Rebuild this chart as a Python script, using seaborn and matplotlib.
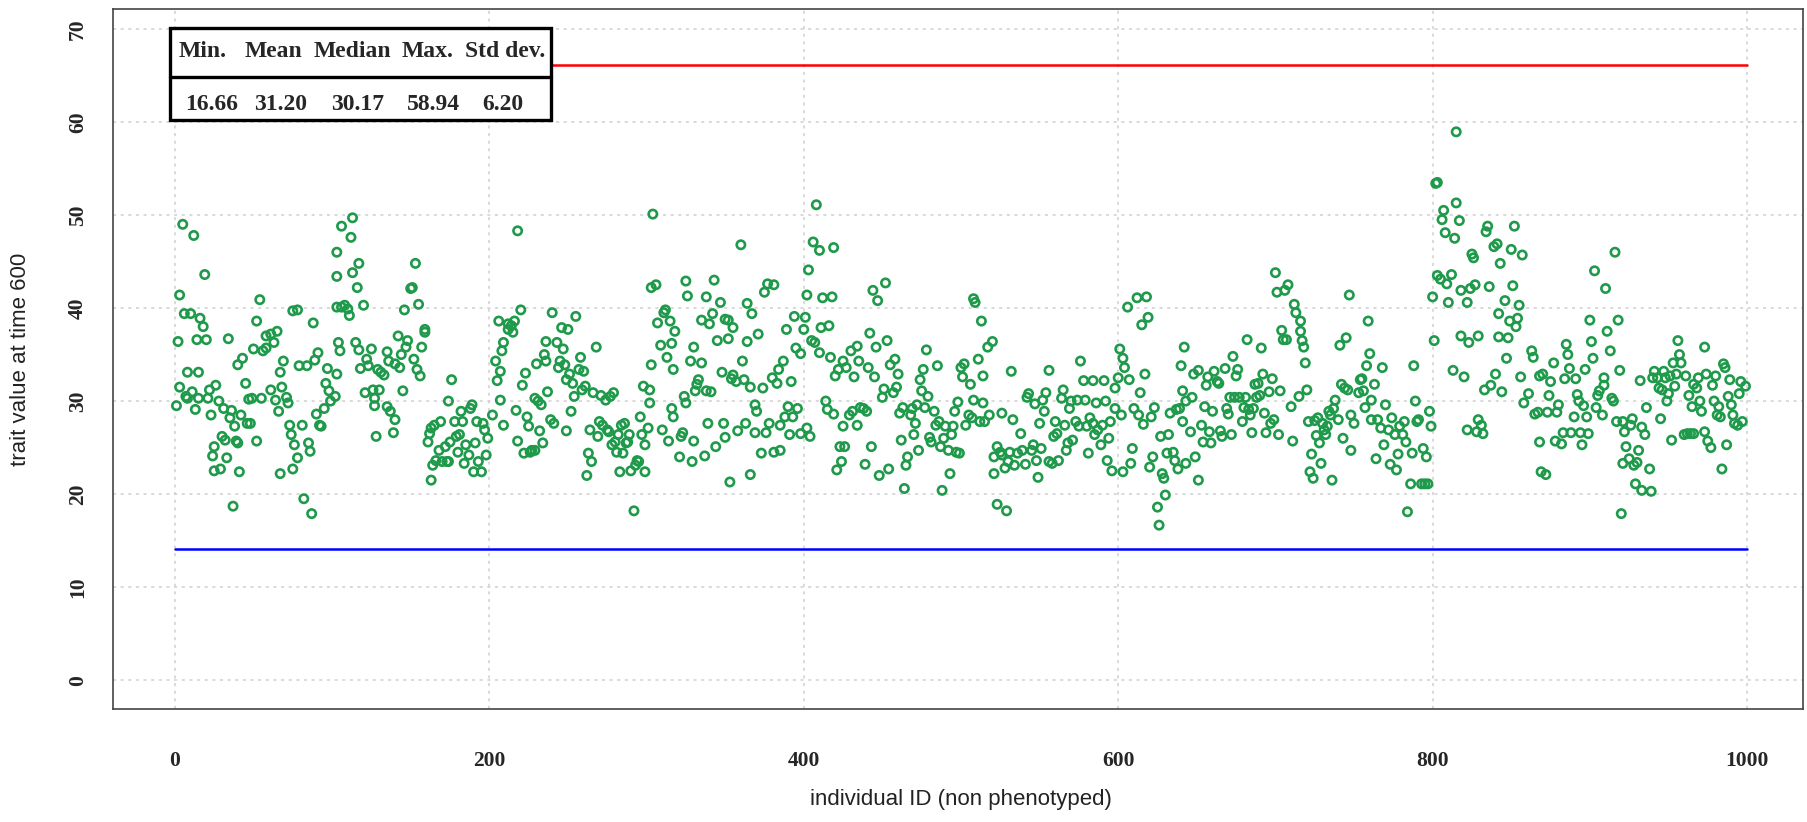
import matplotlib
matplotlib.use('Agg')
import pandas as pd
import numpy as np
import seaborn as sns
import matplotlib.pyplot as plt
from matplotlib.patches import Rectangle

# individual IDs and trait values, block by block
ind_id = [
    1, 2, 3, 3, 5, 6, 7, 8, 8, 10, 11, 12, 13, 14, 15, 15, 16, 18, 19, 20,
    21, 22, 23, 24, 25, 25, 26, 28, 29, 30, 31, 32, 33, 34, 35, 36, 37, 38, 39, 40,
    40, 41, 42, 43, 45, 46, 47, 48, 49, 50, 52, 52, 54, 55, 56, 58, 58, 61, 61, 63,
    64, 65, 66, 67, 67, 68, 69, 71, 72, 73, 74, 75, 75, 76, 78, 78, 79, 81, 82, 84,
    85, 86, 87, 88, 89, 90, 91, 92, 93, 95, 96, 97, 98, 99,
    # 100 - 209
    103, 103, 103, 104, 105, 103, 102, 106, 106, 108, 110, 111, 112, 113, 113, 116, 117, 115, 117, 118,
    120, 121, 122, 123, 125, 126, 127, 127, 128, 129, 130, 131, 133, 135, 135, 136, 137, 139, 140, 140,
    142, 143, 144, 145, 146, 147, 148, 150, 151, 152, 153, 154, 155, 156, 157, 159, 159, 163, 161, 162,
    163, 164, 165, 166, 168, 169, 170, 172, 173, 174, 174, 175, 176, 178, 179, 180, 181, 182, 183, 184,
    185, 187, 188, 189, 190, 191, 192, 193, 195, 196, 197, 198, 199, 202, 204, 205, 206, 207, 207, 208,
    209, 209,
    # 210 - 317
    212, 212, 214, 215, 216, 218, 217, 218, 220, 221, 222, 223, 224, 225, 226, 227, 229, 229, 230, 231,
    232, 233, 234, 235, 236, 236, 237, 239, 240, 241, 243, 244, 245, 246, 247, 248, 249, 249, 250, 251,
    252, 253, 254, 255, 257, 258, 259, 260, 261, 262, 263, 264, 265, 266, 268, 269, 270, 271, 272, 274,
    275, 276, 277, 278, 279, 280, 281, 282, 283, 284, 285, 286, 287, 288, 289, 290, 292, 293, 294, 295,
    296, 297, 298, 299, 299, 301, 302, 302, 303, 304, 303, 306, 307, 309, 310, 311, 312, 313, 314, 315,
    316, 316, 317, 317,
    # 318 - 425
    318, 321, 322, 323, 324, 325, 325, 326, 328, 329, 330, 330, 331, 332, 333, 335, 335, 337, 338, 338,
    339, 340, 341, 342, 343, 344, 345, 347, 348, 349, 350, 350, 352, 352, 353, 354, 355, 355, 357, 358,
    360, 361, 362, 363, 364, 364, 366, 366, 367, 369, 369, 370, 371, 373, 374, 375, 376, 377, 378, 380,
    381, 381, 383, 384, 385, 385, 387, 388, 389, 390, 391, 392, 393, 394, 395, 396, 398, 398, 400, 401,
    402, 402, 403, 404, 405, 406, 407, 408, 410, 410, 411, 412, 414, 415, 416, 417, 418, 419, 419, 420,
    421, 422, 423, 424, 425, 425,
    # 426 - 533
    426, 427, 429, 430, 431, 432, 434, 434, 435, 436, 438, 439, 440, 441, 442, 443, 444, 445, 446, 447,
    448, 450, 451, 452, 453, 454, 455, 457, 458, 459, 460, 461, 462, 463, 464, 465, 466, 468, 469, 470,
    471, 472, 473, 474, 475, 476, 477, 478, 479, 480, 481, 483, 484, 485, 486, 487, 488, 489, 490, 492,
    493, 494, 495, 496, 497, 498, 499, 500, 501, 502, 503, 505, 506, 507, 508, 508, 509, 511, 512, 513,
    514, 514, 515, 517, 518, 520, 521, 521, 523, 523, 525, 526, 526, 528, 529, 530, 531, 532, 533,
    # 534 - 642
    534, 536, 538, 539, 541, 542, 543, 545, 546, 547, 548, 549, 550, 551, 552, 553, 554, 556, 556, 558,
    559, 560, 561, 562, 564, 565, 566, 567, 568, 569, 570, 571, 573, 574, 575, 576, 578, 579, 580, 581,
    582, 584, 584, 585, 586, 587, 589, 590, 591, 592, 593, 594, 595, 596, 598, 598, 600, 601, 602, 603,
    603, 604, 606, 607, 608, 609, 610, 612, 613, 614, 615, 616, 617, 618, 619, 620, 621, 622, 623, 625,
    626, 627, 628, 629, 630, 631, 632, 633, 635, 636, 637, 638, 639, 640, 641, 641, 642,
    # 643 - 750
    643, 643, 646, 647, 648, 649, 651, 651, 653, 654, 655, 656, 657, 658, 659, 660, 661, 663, 664, 665,
    666, 668, 669, 670, 671, 672, 673, 674, 675, 676, 677, 679, 680, 681, 682, 683, 684, 685, 686, 687,
    688, 689, 690, 691, 692, 693, 694, 696, 697, 698, 699, 700, 701, 702, 703, 704, 705, 706, 707, 708,
    710, 711, 712, 713, 715, 716, 716, 717, 718, 719, 720, 721, 722, 723, 724, 725, 726, 727, 728, 729,
    730, 731, 732, 733, 734, 735, 736, 737, 738, 740, 741, 742, 743, 744, 745, 746, 747, 748, 748, 750,
    # 751 - 858
    753, 754, 755, 756, 757, 758, 759, 760, 761, 761, 763, 764, 765, 767, 768, 769, 770, 772, 773, 774,
    776, 777, 778, 779, 781, 782, 783, 784, 786, 787, 788, 789, 790, 791, 793, 794, 795, 796, 797, 798,
    799, 800, 801, 802, 803, 803, 805, 806, 807, 808, 809, 810, 812, 813, 814, 815, 815, 817, 818, 818,
    820, 822, 822, 823, 824, 825, 826, 827, 828, 829, 829, 831, 832, 833, 834, 835, 836, 837, 839, 840,
    841, 842, 842, 843, 844, 846, 847, 848, 849, 850, 851, 852, 853, 854, 855, 856, 857, 858,
    # 859 - 966
    861, 863, 864, 865, 867, 868, 868, 869, 870, 872, 873, 874, 875, 877, 878, 879, 880, 882, 883, 884,
    885, 886, 887, 888, 890, 891, 892, 893, 894, 895, 896, 897, 898, 899, 900, 901, 902, 903, 904, 905,
    906, 908, 909, 909, 910, 911, 913, 914, 915, 916, 917, 918, 919, 920, 921, 921, 922, 923, 925, 926,
    927, 928, 929, 930, 931, 932, 933, 933, 935, 936, 938, 939, 940, 941, 943, 944, 945, 946, 947, 948,
    949, 950, 951, 952, 953, 954, 955, 956, 957, 958, 960, 961, 962, 963, 964, 965, 966, 966,
    # 967 - 1000
    968, 969, 970, 971, 973, 973, 974, 975, 977, 978, 979, 980, 981, 982, 983, 984, 985, 986, 987, 988,
    989, 990, 991, 992, 994, 995, 996, 997, 999,
]

trait = [
    29.5, 36.4, 31.5, 41.4, 49.0, 39.4, 30.5, 33.1, 30.3, 39.4, 31.0, 47.8, 29.1, 36.6, 30.3, 33.1, 38.9, 38.0, 43.6, 36.6,
    30.3, 31.2, 28.5, 24.1, 25.1, 22.5, 31.7, 30.0, 22.7, 26.2, 29.2, 25.8, 23.9, 36.7, 28.2, 29.0, 18.7, 27.3, 25.7, 25.5,
    33.9, 22.4, 28.5, 34.6, 31.9, 27.6, 30.2, 27.6, 30.3, 35.6, 38.6, 25.7, 40.9, 30.3, 35.4, 35.7, 37.0, 37.2, 31.2, 36.3,
    30.1, 37.5, 28.9, 22.2, 33.1, 31.5, 34.3, 30.4, 29.8, 27.4, 26.4, 22.7, 39.7, 25.3, 23.9, 39.8, 33.8, 27.4, 19.5, 33.8,
    25.5, 24.6, 17.9, 38.4, 34.4, 28.6, 35.2, 27.4, 27.3, 29.2, 31.9, 33.5, 31.1, 30.0,
    # 100 - 209
    46.0, 43.4, 40.1, 36.3, 35.4, 32.9, 30.5, 48.8, 40.1, 40.3, 39.9, 39.2, 47.6, 49.7, 43.8, 42.2, 44.8, 36.3, 35.5, 33.5,
    40.3, 30.9, 34.5, 33.8, 35.6, 31.2, 30.3, 29.5, 26.2, 33.4, 31.2, 33.1, 32.8, 35.3, 29.4, 34.3, 28.9, 26.6, 28.0, 34.0,
    37.0, 33.6, 35.0, 31.1, 39.8, 35.8, 36.5, 42.1, 42.2, 34.5, 44.8, 33.4, 40.4, 32.7, 35.8, 37.7, 37.4, 21.5, 25.6, 26.5,
    27.1, 23.1, 27.4, 23.6, 24.7, 27.8, 23.5, 25.1, 23.5, 30.0, 23.5, 25.6, 32.3, 27.8, 26.2, 24.5, 26.4, 28.9, 27.8, 23.3,
    25.3, 24.2, 29.2, 29.6, 22.4, 25.5, 27.8, 23.5, 22.4, 27.6, 26.9, 24.2, 26.0, 28.5, 34.3, 32.2, 38.6, 33.2, 30.1, 35.4,
    27.4, 36.3,
    # 210 - 317
    37.7, 38.3, 38.1, 37.4, 38.6, 48.3, 29.0, 25.7, 39.8, 31.7, 24.4, 33.0, 28.3, 27.3, 24.5, 24.7, 30.3, 24.7, 34.0, 30.0,
    26.8, 29.6, 25.5, 35.0, 34.3, 36.4, 31.0, 28.0, 39.5, 27.6, 36.3, 33.6, 34.3, 37.9, 35.6, 33.9, 26.8, 32.3, 37.7, 32.9,
    28.9, 31.9, 30.5, 39.1, 33.4, 34.7, 31.2, 33.2, 31.6, 22.0, 24.4, 26.9, 23.5, 30.9, 35.8, 26.2, 27.8, 30.6, 27.4, 30.1,
    26.9, 26.7, 30.5, 25.3, 30.9, 25.6, 24.5, 26.4, 22.4, 27.4, 24.4, 27.6, 25.5, 25.6, 26.4, 22.5, 18.2, 23.1, 23.6, 23.5,
    28.3, 26.4, 31.6, 25.3, 22.4, 27.1, 31.2, 29.8, 33.9, 50.1, 42.2, 42.5, 38.4, 36.0, 26.9, 39.5, 39.8, 34.7, 25.7, 38.6,
    36.2, 29.2, 33.4, 28.3,
    # 318 - 425
    37.5, 24.0, 26.2, 26.6, 30.5, 29.8, 42.9, 41.3, 34.3, 23.5, 25.7, 35.8, 31.1, 31.8, 32.3, 34.1, 38.7, 24.1, 31.1, 41.2,
    27.6, 38.3, 31.0, 39.4, 43.0, 25.1, 36.5, 40.6, 33.1, 27.6, 26.1, 38.8, 36.7, 38.7, 21.3, 32.4, 32.8, 37.9, 32.1, 26.8,
    46.8, 34.3, 32.3, 27.6, 40.5, 36.4, 31.5, 22.1, 39.4, 26.6, 29.6, 28.9, 37.2, 24.4, 31.4, 41.7, 26.6, 42.6, 27.6, 32.5,
    42.5, 24.5, 31.9, 33.4, 24.7, 27.4, 34.3, 28.3, 37.7, 29.4, 26.4, 32.1, 28.3, 39.1, 35.7, 29.2, 26.5, 35.1, 37.7, 39.0,
    27.1, 41.4, 44.1, 26.2, 36.5, 47.1, 36.3, 51.1, 46.2, 35.2, 37.9, 41.1, 30.0, 29.1, 38.1, 34.7, 41.2, 28.6, 46.5, 32.7,
    22.6, 33.4, 25.1, 23.5, 27.3, 34.3,
    # 426 - 533
    25.1, 33.6, 28.5, 35.4, 28.9, 32.6, 27.4, 35.9, 34.3, 29.3, 29.2, 23.2, 28.9, 33.6, 37.3, 25.1, 41.9, 32.6, 35.8, 40.8,
    22.0, 30.4, 31.3, 42.7, 36.5, 22.7, 33.9, 30.9, 34.5, 31.5, 32.9, 28.7, 25.8, 29.3, 20.6, 23.1, 24.0, 28.5, 29.2, 26.4,
    27.6, 29.6, 24.7, 32.3, 31.1, 33.4, 29.3, 35.5, 30.5, 26.1, 25.6, 28.9, 27.4, 33.8, 27.8, 25.1, 20.4, 26.0, 27.3, 24.7,
    22.2, 26.4, 27.3, 28.9, 24.5, 29.9, 24.4, 33.6, 32.6, 34.0, 27.4, 28.5, 31.8, 28.2, 30.1, 41.0, 40.6, 34.5, 27.8, 38.6,
    32.7, 29.8, 27.8, 35.8, 28.5, 36.4, 24.0, 22.2, 25.1, 18.9, 24.5, 28.7, 24.2, 22.8, 18.2, 23.5, 24.5, 33.2, 28.0,
    # 534 - 642
    23.1, 24.4, 26.5, 24.7, 23.2, 30.4, 30.8, 24.7, 25.3, 29.7, 23.6, 21.8, 27.6, 24.9, 30.1, 28.9, 30.9, 33.3, 23.5, 23.3,
    26.2, 27.8, 26.5, 23.6, 30.3, 31.2, 27.4, 24.7, 25.5, 29.2, 30.0, 25.8, 27.8, 30.1, 27.3, 34.3, 32.2, 30.1, 27.3, 24.4,
    28.2, 32.2, 27.6, 26.4, 29.8, 26.9, 25.3, 27.4, 32.2, 30.0, 23.6, 26.0, 27.8, 22.5, 31.4, 29.2, 32.5, 35.6, 28.5, 22.4,
    34.6, 33.6, 40.1, 32.3, 23.3, 24.9, 29.2, 41.1, 28.5, 30.9, 38.2, 27.5, 32.9, 41.2, 39.0, 22.9, 28.3, 24.0, 29.3, 18.6,
    16.66, 26.2, 22.2, 21.7, 19.9, 24.4, 26.4, 28.7, 24.5, 23.6, 29.1, 22.7, 29.2, 33.8, 27.8, 31.1, 35.8,
    # 643 - 750
    23.3, 30.0, 26.7, 30.4, 32.9, 24.0, 33.3, 21.5, 27.4, 25.6, 29.4, 31.7, 32.6, 26.7, 25.5, 28.9, 33.2, 32.1, 31.9, 26.8,
    26.2, 33.5, 29.2, 28.6, 30.4, 26.4, 34.8, 30.4, 32.7, 33.4, 30.4, 27.8, 29.3, 30.4, 36.6, 29.1, 28.5, 26.6, 29.2, 31.8,
    30.4, 31.9, 30.6, 35.7, 32.9, 28.7, 26.6, 31.0, 27.6, 32.4, 28.0, 43.8, 41.7, 26.4, 31.1, 37.6, 36.6, 41.9, 36.6, 42.5,
    29.4, 25.7, 40.4, 39.5, 30.5, 38.6, 37.5, 36.5, 35.8, 34.1, 31.2, 27.8, 22.4, 24.3, 21.7, 27.9, 26.3, 28.2, 25.5, 23.3,
    27.6, 26.9, 26.4, 27.3, 28.9, 28.5, 21.5, 29.2, 30.1, 28.0, 36.0, 31.8, 26.0, 31.4, 36.8, 31.2, 41.4, 24.7, 28.5, 27.6,
    # 751 - 858
    30.9, 32.3, 32.4, 31.1, 29.3, 33.8, 38.6, 35.1, 30.1, 28.0, 31.8, 23.8, 28.0, 27.1, 33.6, 25.3, 29.6, 26.9, 23.2, 28.2,
    26.4, 22.6, 24.3, 27.3, 26.4, 27.8, 25.6, 18.1, 21.1, 24.4, 33.8, 30.0, 27.8, 28.0, 21.1, 24.9, 21.1, 24.0, 21.1, 28.9,
    27.3, 41.2, 36.5, 53.4, 53.5, 43.5, 43.1, 49.5, 50.5, 48.1, 42.6, 40.6, 43.6, 33.3, 47.5, 51.3, 58.94, 49.4, 37.0, 41.9,
    32.6, 40.6, 26.9, 36.3, 42.1, 45.8, 45.4, 42.5, 26.7, 28.0, 37.0, 27.4, 26.5, 31.2, 48.2, 48.8, 42.3, 31.7, 46.6, 32.9,
    46.9, 39.4, 36.9, 44.8, 31.0, 40.8, 34.6, 36.8, 38.6, 46.3, 42.4, 48.8, 38.0, 38.9, 40.3, 32.6, 45.7, 29.8,
    # 859 - 966
    30.8, 35.4, 34.7, 28.6, 28.8, 25.6, 32.7, 22.4, 32.9, 22.1, 28.8, 30.6, 32.1, 34.1, 25.7, 28.8, 29.6, 25.4, 26.6, 32.4,
    36.1, 35.0, 33.5, 26.6, 28.3, 32.4, 30.7, 30.0, 26.6, 25.3, 29.5, 33.4, 28.3, 26.5, 38.7, 36.4, 34.6, 44.0, 29.3, 30.6,
    31.1, 28.5, 32.5, 31.7, 42.1, 37.5, 35.4, 30.3, 30.0, 46.0, 27.8, 38.7, 33.3, 17.9, 27.8, 23.3, 26.7, 25.1, 23.8, 27.4,
    28.1, 23.1, 21.1, 23.4, 24.7, 32.2, 20.4, 27.2, 26.4, 29.3, 22.7, 20.3, 32.5, 33.2, 32.5, 31.4, 28.1, 31.2, 33.2, 32.5,
    30.0, 30.8, 32.7, 25.8, 34.1, 31.6, 32.9, 36.5, 35.0, 34.1, 26.4, 32.7, 26.5, 30.6, 26.5, 29.4, 26.5, 31.8,
    # 967 - 1000
    31.4, 32.5, 30.0, 28.9, 35.8, 26.7, 32.9, 25.7, 25.0, 31.7, 30.0, 32.7, 28.5, 29.4, 28.3, 22.7, 34.0, 33.6, 25.3, 30.5,
    32.3, 29.6, 28.5, 27.6, 27.4, 30.8, 32.1, 27.8, 31.6,
]

# summary table and threshold lines
stat_names = ["Min.", "Mean", "Median", "Max.", "Std dev."]
stat_values = ["16.66", "31.20", "30.17", "58.94", "6.20"]
upper_limit = 66.1
lower_limit = 14.1

df = pd.DataFrame({"id": ind_id, "trait": trait})

sns.set_style("white")
plt.rcParams['font.family'] = ['Liberation Sans', 'DejaVu Sans']

fig = plt.figure(figsize=(18.07, 8.22), dpi=100)
ax = fig.add_axes([0.0625, 0.1375, 0.9353, 0.8516])

# dotted grid like R's grid()
for gx in range(0, 1001, 200):
    ax.axvline(gx, color="#cfcfcf", lw=1.1, ls=(0, (2, 3)), zorder=0)
for gy in range(0, 71, 10):
    ax.axhline(gy, color="#cfcfcf", lw=1.1, ls=(0, (2, 3)), zorder=0)

sns.scatterplot(data=df, x="id", y="trait", ax=ax, marker="o", s=36,
                facecolor="none", edgecolor="#1f9a4b", linewidth=1.9, zorder=3)

ax.plot([0, 1000], [upper_limit, upper_limit], color="#ff0000", lw=1.8, zorder=2)
ax.plot([0, 1000], [lower_limit, lower_limit], color="#0000ff", lw=1.8, zorder=2)

ax.set_xlim(-39.4, 1035.6)
ax.set_ylim(-3.1, 72.15)
ax.set_xticks(range(0, 1001, 200))
ax.set_yticks(range(0, 71, 10))

for sp in ax.spines.values():
    sp.set_color("#444444")
    sp.set_linewidth(1.2)

ax.tick_params(axis="both", direction="out", length=8, width=1.1, color="#444444")
ax.tick_params(axis="x", pad=22)
ax.tick_params(axis="y", pad=10)
for lab in ax.get_xticklabels():
    lab.set_fontfamily("Liberation Serif")
    lab.set_fontweight("bold")
    lab.set_fontsize(15.5)
for lab in ax.get_yticklabels():
    lab.set_fontfamily("Liberation Serif")
    lab.set_fontweight("bold")
    lab.set_fontsize(15.5)
    lab.set_rotation(90)
    lab.set_va("center")

ax.set_xlabel("individual ID (non phenotyped)", fontsize=16, color="#222222", va="center")
ax.set_ylabel("trait value at time 600", fontsize=16, color="#222222", va="center")
ax.xaxis.set_label_coords(0.502, -0.13)
ax.yaxis.set_label_coords(-0.0544, 0.5)

# statistics box drawn over the plot
ax.add_patch(Rectangle((-2.8, 60.2), 242.1, 9.9, facecolor="white",
                       edgecolor="black", lw=2.4, zorder=5))
ax.plot([-2.8, 239.3], [64.8, 64.8], color="black", lw=2.4, zorder=6)
head_x = [17.6, 62.7, 112.9, 160.9, 210.0]
val_x = [23.5, 67.4, 116.0, 164.3, 208.7]
for name, hx in zip(stat_names, head_x):
    ax.text(hx, 67.6, name, ha="center", va="center", fontsize=17,
            fontweight="bold", family="Liberation Serif", zorder=7)
for val, vx in zip(stat_values, val_x):
    ax.text(vx, 61.9, val, ha="center", va="center", fontsize=17,
            fontweight="bold", family="Liberation Serif", zorder=7)

fig.savefig("out.png", dpi=100)
